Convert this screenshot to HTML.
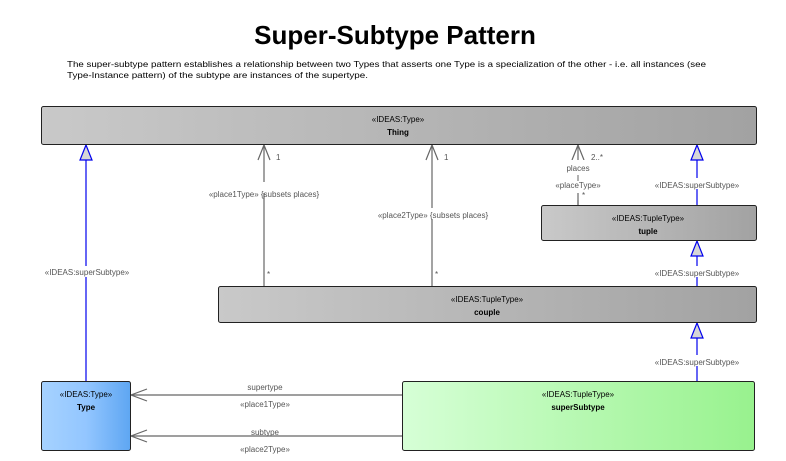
<!DOCTYPE html>
<html><head><meta charset="utf-8"><style>
html,body{margin:0;padding:0;background:#fff;width:786px;height:461px;overflow:hidden}
svg text{font-family:"Liberation Sans",sans-serif}
.s{font-size:8px;fill:#000}
.b{font-size:8px;font-weight:bold;fill:#000}
.l{font-size:8px;fill:#555}
</style></head><body>
<svg width="786" height="461" viewBox="0 0 786 461" xmlns="http://www.w3.org/2000/svg">
<defs>
<linearGradient id="g" x1="0" x2="1" y1="0" y2="0"><stop offset="0" stop-color="#c9c9c9"/><stop offset="1" stop-color="#a2a2a2"/></linearGradient>
<linearGradient id="bl" x1="0" x2="1"><stop offset="0" stop-color="#a6d2ff"/><stop offset="0.5" stop-color="#93c6ff"/><stop offset="1" stop-color="#5ea6f2"/></linearGradient>
<linearGradient id="gr" x1="0" x2="1"><stop offset="0" stop-color="#d6ffd6"/><stop offset="1" stop-color="#98f28e"/></linearGradient>
</defs>
<text x="395" y="44" text-anchor="middle" font-size="26" font-weight="bold" fill="#000">Super-Subtype Pattern</text>
<text x="67" y="67" font-size="8.6" fill="#000" textLength="639" lengthAdjust="spacingAndGlyphs">The super-subtype pattern establishes a relationship between two Types that asserts one Type is a specialization of the other - i.e. all instances (see</text>
<text x="67" y="78" font-size="8.6" fill="#000" textLength="301" lengthAdjust="spacingAndGlyphs">Type-Instance pattern) of the subtype are instances of the supertype.</text>

<g stroke="#0000ee" stroke-width="1.2" fill="none">
<line x1="86" y1="160" x2="86" y2="381"/>
<line x1="697" y1="160" x2="697" y2="205"/>
<line x1="697" y1="256" x2="697" y2="286"/>
<line x1="697" y1="338" x2="697" y2="381"/>
</g>
<g fill="#d6d6d6" stroke="#0000ee" stroke-width="1.2">
<polygon points="86,145 80,160 92,160"/>
<polygon points="697,145 691,160 703,160"/>
<polygon points="697,241 691,256 703,256"/>
<polygon points="697,323 691,338 703,338"/>
</g>
<g stroke="#666" stroke-width="1.2" fill="none">
<line x1="264" y1="145" x2="264" y2="286"/><polyline points="258,160 264,145 270,160"/>
<line x1="432" y1="145" x2="432" y2="286"/><polyline points="426,160 432,145 438,160"/>
<line x1="578" y1="145" x2="578" y2="205"/><polyline points="572,160 578,145 584,160"/>
<line x1="131" y1="395" x2="402" y2="395"/><polyline points="147,389 131,395 147,401"/>
<line x1="131" y1="436" x2="402" y2="436"/><polyline points="147,430 131,436 147,442"/>
</g>
<rect x="196" y="182" width="136" height="11" fill="#fff"/>
<rect x="364" y="208" width="138" height="11" fill="#fff"/>
<rect x="40" y="266" width="94" height="11" fill="#fff"/>
<rect x="550" y="160" width="56" height="40" fill="#fff"/>
<rect x="650" y="178" width="96" height="11" fill="#fff"/>
<rect x="650" y="266" width="96" height="11" fill="#fff"/>
<rect x="650" y="355" width="96" height="11" fill="#fff"/>
<line x1="578" y1="175" x2="578" y2="181" stroke="#666"/>
<line x1="578" y1="193" x2="578" y2="205" stroke="#666" stroke-width="1.2"/>
<g class="l">
<text x="276" y="160">1</text><text x="444" y="160">1</text><text x="591" y="160">2..*</text>
<text x="264" y="197" text-anchor="middle">«place1Type» {subsets places}</text>
<text x="433" y="218" text-anchor="middle">«place2Type» {subsets places}</text>
<text x="87" y="275" text-anchor="middle">«IDEAS:superSubtype»</text>
<text x="578" y="171" text-anchor="middle">places</text>
<text x="578" y="188" text-anchor="middle">«placeType»</text>
<text x="582" y="198">*</text>
<text x="267" y="277">*</text><text x="435" y="277">*</text>
<text x="697" y="188" text-anchor="middle">«IDEAS:superSubtype»</text>
<text x="697" y="276" text-anchor="middle">«IDEAS:superSubtype»</text>
<text x="697" y="365" text-anchor="middle">«IDEAS:superSubtype»</text>
<text x="265" y="390" text-anchor="middle">supertype</text>
<text x="265" y="407" text-anchor="middle">«place1Type»</text>
<text x="265" y="435" text-anchor="middle">subtype</text>
<text x="265" y="452" text-anchor="middle">«place2Type»</text>
</g>
<rect x="41.5" y="106.5" width="715" height="38" rx="2" fill="url(#g)" stroke="#222"/>
<text x="398" y="122" text-anchor="middle" class="s">«IDEAS:Type»</text>
<text x="398" y="135" text-anchor="middle" class="b">Thing</text>
<rect x="541.5" y="205.5" width="215" height="35" rx="2" fill="url(#g)" stroke="#222"/>
<text x="648" y="221" text-anchor="middle" class="s">«IDEAS:TupleType»</text>
<text x="648" y="234" text-anchor="middle" class="b">tuple</text>
<rect x="218.5" y="286.5" width="538" height="36" rx="2" fill="url(#g)" stroke="#222"/>
<text x="487" y="302" text-anchor="middle" class="s">«IDEAS:TupleType»</text>
<text x="487" y="315" text-anchor="middle" class="b">couple</text>
<rect x="41.5" y="381.5" width="89" height="69" rx="2" fill="url(#bl)" stroke="#222"/>
<text x="86" y="397" text-anchor="middle" class="s">«IDEAS:Type»</text>
<text x="86" y="410" text-anchor="middle" class="b">Type</text>
<rect x="402.5" y="381.5" width="352" height="69" rx="2" fill="url(#gr)" stroke="#222"/>
<text x="578" y="397" text-anchor="middle" class="s">«IDEAS:TupleType»</text>
<text x="578" y="410" text-anchor="middle" class="b">superSubtype</text>
</svg>
</body></html>
